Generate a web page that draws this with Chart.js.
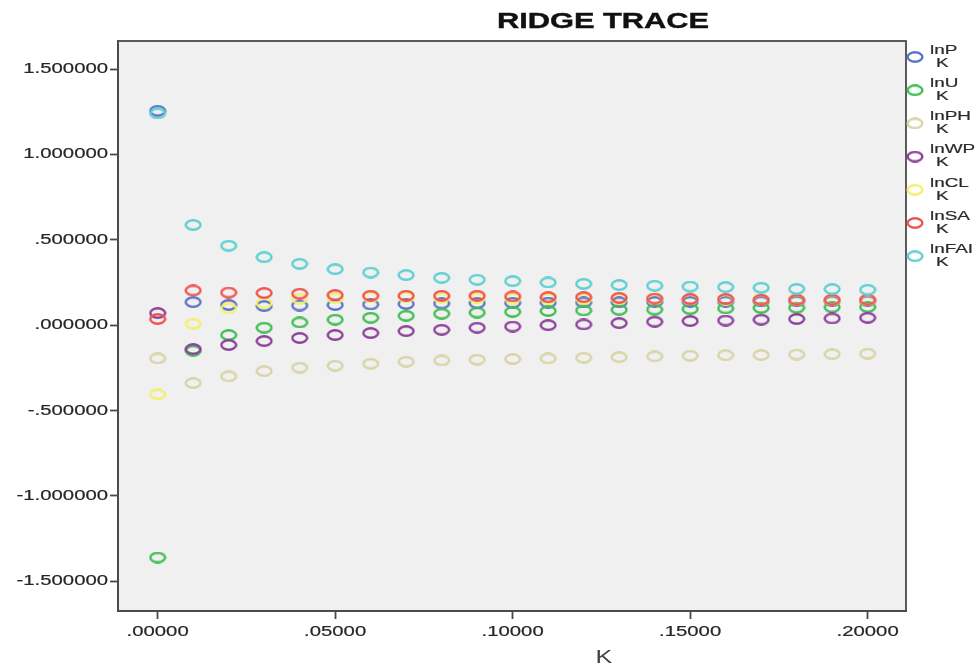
<!DOCTYPE html>
<html>
<head>
<meta charset="utf-8">
<script src="https://cdn.jsdelivr.net/npm/chart.js@4.4.1/dist/chart.umd.min.js"></script>
<style>
  html, body { margin: 0; padding: 0; background: #ffffff; }
  #wrap { width: 978px; height: 668px; position: relative; }
</style>
</head>
<body>
<div id="wrap"><canvas id="c" width="978" height="668"></canvas></div>
<script>
// ---- Data ----
const kValues = [0.00, 0.01, 0.02, 0.03, 0.04, 0.05, 0.06, 0.07, 0.08, 0.09, 0.10,
                 0.11, 0.12, 0.13, 0.14, 0.15, 0.16, 0.17, 0.18, 0.19, 0.20];
const seriesNames = ["lnP", "lnU", "lnPH", "lnWP", "lnCL", "lnSA", "lnFAI"];
const lnP   = [1.255, 0.135, 0.118, 0.112, 0.115, 0.118, 0.121, 0.124, 0.127, 0.129, 0.131,
               0.132, 0.133, 0.134, 0.136, 0.137, 0.138, 0.139, 0.140, 0.141, 0.141];
const lnU   = [-1.361, -0.150, -0.058, -0.015, 0.016, 0.032, 0.043, 0.055, 0.067, 0.074, 0.078,
               0.083, 0.086, 0.090, 0.091, 0.094, 0.098, 0.101, 0.102, 0.105, 0.106];
const lnPH  = [-0.195, -0.339, -0.300, -0.269, -0.249, -0.238, -0.226, -0.214, -0.207, -0.202, -0.198,
               -0.195, -0.191, -0.187, -0.183, -0.179, -0.176, -0.175, -0.172, -0.170, -0.167];
const lnWP  = [0.071, -0.140, -0.116, -0.093, -0.075, -0.058, -0.046, -0.035, -0.027, -0.015, -0.008,
               0.000, 0.004, 0.012, 0.020, 0.024, 0.027, 0.032, 0.036, 0.039, 0.043];
const lnCL  = [-0.405, 0.008, 0.098, 0.129, 0.155, 0.158, 0.164, 0.162, 0.160, 0.158, 0.156,
               0.155, 0.154, 0.153, 0.152, 0.151, 0.150, 0.149, 0.148, 0.147, 0.146];
const lnSA  = [0.036, 0.203, 0.191, 0.188, 0.184, 0.176, 0.172, 0.172, 0.172, 0.172, 0.168,
               0.164, 0.164, 0.160, 0.156, 0.153, 0.153, 0.149, 0.149, 0.149, 0.149];
const lnFAI = [1.240, 0.587, 0.465, 0.398, 0.359, 0.328, 0.308, 0.293, 0.277, 0.266, 0.258,
               0.250, 0.242, 0.235, 0.231, 0.226, 0.223, 0.219, 0.212, 0.211, 0.207];
const yTickValues = [-1.5, -1.0, -0.5, 0.0, 0.5, 1.0, 1.5];
const xTickValues = [0.00, 0.05, 0.10, 0.15, 0.20];
const chartTitle = "RIDGE TRACE";
const xAxisTitle = "K";
const legendSubLabel = "K";

const seriesValues = [lnP, lnU, lnPH, lnWP, lnCL, lnSA, lnFAI];
const seriesColors = ["#5b74c8", "#3fbd52", "#d8d3a6", "#8c3f9a", "#f4ef6c", "#ef5151", "#5ccfd1"];

const FONT = '"Liberation Sans", Arial, sans-serif';
const STRETCH = 1.4;

// elliptical ring marker (reference is horizontally stretched)
function ringImage(color) {
  const c = document.createElement('canvas');
  c.width = 18; c.height = 12;
  const g = c.getContext('2d');
  g.strokeStyle = color;
  g.lineWidth = 2.4;
  g.beginPath();
  g.ellipse(9, 6, 7.4, 4.7, 0, 0, Math.PI * 2);
  g.stroke();
  return c;
}
const markers = seriesColors.map(ringImage);

function fmtY(v) {
  let s = Math.abs(v).toFixed(6);
  if (s.startsWith("0")) s = s.slice(1);
  return (v < 0 ? "-" : "") + s;
}
function fmtX(v) {
  let s = v.toFixed(5);
  if (s.startsWith("0")) s = s.slice(1);
  return s;
}

function stretchedText(ctx, text, x, y, align, font, color, weight) {
  ctx.save();
  ctx.translate(x, y);
  ctx.scale(STRETCH, 1);
  ctx.font = font;
  ctx.fillStyle = color;
  ctx.textAlign = align;
  ctx.textBaseline = 'middle';
  ctx.fillText(text, 0, 0);
  if (weight) {
    ctx.strokeStyle = color;
    ctx.lineWidth = weight;
    ctx.strokeText(text, 0, 0);
  }
  ctx.restore();
}

const datasets = seriesNames.map((name, i) => ({
  label: name,
  data: kValues.map((k, j) => ({ x: k, y: seriesValues[i][j] })),
  pointStyle: markers[i],
  borderColor: seriesColors[i],
  backgroundColor: seriesColors[i],
  showLine: false,
  order: 20 - i
}));

const framePlugin = {
  id: 'frame',
  beforeDraw(chart) {
    const a = chart.chartArea, ctx = chart.ctx;
    ctx.save();
    ctx.fillStyle = '#f0f0f0';
    ctx.fillRect(a.left, a.top, a.right - a.left, a.bottom - a.top);
    ctx.restore();
  },
  afterDraw(chart) {
    const a = chart.chartArea, ctx = chart.ctx;
    ctx.save();
    ctx.strokeStyle = '#4a4a4a';
    ctx.lineWidth = 1.8;
    ctx.strokeRect(a.left, a.top, a.right - a.left, a.bottom - a.top);
    ctx.restore();

    const xs = chart.scales.x, ys = chart.scales.y;
    // tick labels (positions from the library's scales)
    ys.ticks.forEach(t => {
      stretchedText(ctx, fmtY(t.value), 108, ys.getPixelForValue(t.value), 'right', '14.5px ' + FONT, '#262626', 0.2);
    });
    xs.ticks.forEach(t => {
      stretchedText(ctx, fmtX(t.value), xs.getPixelForValue(t.value), 632, 'center', '14.5px ' + FONT, '#262626', 0.2);
    });
    // axis title
    stretchedText(ctx, xAxisTitle, 604, 658, 'center', '18px ' + FONT, '#444444');
    // chart title
    stretchedText(ctx, chartTitle, 603, 22, 'center', 'bold 22px ' + FONT, '#111111', 0.4);
    // legend
    seriesNames.forEach((name, i) => {
      const cy = 57 + i * 33.2;
      ctx.drawImage(markers[i], 915 - 9, cy - 6);
      stretchedText(ctx, name, 930, cy - 7, 'left', '13.5px ' + FONT, '#2a2a2a', 0.2);
      stretchedText(ctx, legendSubLabel, 936, cy + 6, 'left', '13.5px ' + FONT, '#2a2a2a', 0.2);
    });
  }
};

new Chart(document.getElementById('c'), {
  type: 'scatter',
  data: { datasets },
  options: {
    responsive: false,
    animation: false,
    layout: { padding: { top: 41, right: 72, left: 0, bottom: 0 } },
    plugins: { legend: { display: false }, tooltip: { enabled: false }, title: { display: false } },
    scales: {
      x: {
        type: 'linear',
        min: -0.01117,
        max: 0.2108,
        afterBuildTicks(s) { s.ticks = xTickValues.map(v => ({ value: v })); },
        afterFit(s) { s.height = 57; },
        ticks: { display: false },
        grid: { drawOnChartArea: false, drawTicks: true, tickLength: 8, tickColor: '#4a4a4a', tickWidth: 1.8 },
        border: { display: true, color: '#4a4a4a', width: 1.8 }
      },
      y: {
        type: 'linear',
        min: -1.674,
        max: 1.664,
        afterBuildTicks(s) { s.ticks = yTickValues.map(v => ({ value: v })); },
        afterFit(s) { s.width = 118; },
        ticks: { display: false },
        grid: { drawOnChartArea: false, drawTicks: true, tickLength: 8, tickColor: '#4a4a4a', tickWidth: 1.8 },
        border: { display: true, color: '#4a4a4a', width: 1.8 }
      }
    }
  },
  plugins: [framePlugin]
});
</script>
</body>
</html>
